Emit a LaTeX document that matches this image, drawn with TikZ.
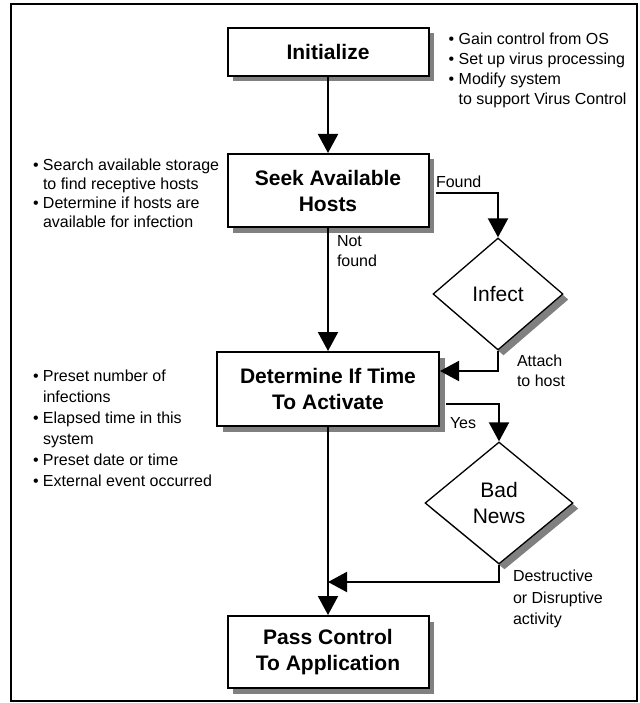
\documentclass[tikz,border=0pt]{standalone}
\usepackage{fontspec}
\setmainfont{Liberation Sans}
\usepackage{tikz}
\usetikzlibrary{arrows.meta, shapes.geometric, shadows}

\newcommand{\bitem}{\makebox[10pt][l]{\textbullet}}
\newcommand{\bcont}{\hspace*{10pt}}

\begin{document}
\begin{tikzpicture}[x=1pt, y=-1pt, line width=2pt,
    boxshadow/.style={drop shadow={shadow xshift=5.5pt, shadow yshift=-5.5pt, fill=black!50, opacity=1}},
    stepbox/.style={draw, fill=white, boxshadow, inner sep=0pt, minimum width=201pt, minimum height=73pt,
        align=center, font=\fontsize{21}{26}\selectfont\bfseries},
    decision/.style={diamond, draw, fill=white, boxshadow, line width=1.3pt, inner sep=0pt,
        align=center, font=\fontsize{21}{26}\selectfont},
    note/.style={inner sep=0pt, align=left, font=\fontsize{16}{20}\selectfont},
    flow/.style={-{Triangle[length=19pt, width=20pt]}}]
        \useasboundingbox (0,0) rectangle (639,703);
        % Frame
        \draw[line width=1.2pt] (11,4) rectangle (637,701);
        % Steps
        \node[stepbox, minimum height=48pt] (init) at (328,52) {Initialize};
        \node[stepbox] (seek) at (328,190.5) {Seek Available\\Hosts};
        \node[stepbox, minimum width=222pt, minimum height=74pt] (time) at (328,389) {Determine If Time\\To Activate};
        \node[stepbox, minimum height=72pt] (pass) at (328,652) {Pass Control\\To Application};
        % Decisions
        \node[decision, minimum width=130pt, minimum height=112pt] (infect) at (498,294) {Infect};
        \node[decision, minimum width=148pt, minimum height=122pt] (bad) at (499,503) {Bad\\News};
        % Main line
        \draw[flow] (init) -- (seek);
        \draw[flow] (seek) -- (time);
        \draw[flow] (time) -- (pass);
        % Branches
        \draw[flow] ([xshift=6pt, yshift=-2.5pt]seek.east) -| (infect.north);
        \draw[flow] (infect.south) |- ([yshift=18pt]time.east);
        \draw[flow] ([xshift=6pt, yshift=-15pt]time.east) -| (bad.north);
        \coordinate (merge) at (328,582);
        \draw[flow] (bad.south) |- (merge);
        % Branch labels
        \node[note, anchor=west] (found) at (435,182) {Found};
        \node[note, anchor=north west] (notfound) at (336,234) {Not\\found};
        \node[note, anchor=north west] (attach) at (516,354) {Attach\\to host};
        \node[note, anchor=west] (yes) at (449,423) {Yes};
        \node[note, anchor=north west, font=\fontsize{16}{21.5}\selectfont] (damage) at (512,569) {Destructive\\or Disruptive\\activity};
        % Side notes
        \node[note, anchor=north west] (initnotes) at (447.7,32.3)
            {\bitem Gain control from OS\\ \bitem Set up virus processing\\ \bitem Modify system\\ \bcont to support Virus Control};
        \node[note, anchor=north west, font=\fontsize{16}{19}\selectfont] (seeknotes) at (32,158)
            {\bitem Search available storage\\ \bcont to find receptive hosts\\ \bitem Determine if hosts are\\ \bcont available for infection};
        \node[note, anchor=north west, font=\fontsize{16}{21}\selectfont] (timenotes) at (32,369)
            {\bitem Preset number of\\ \bcont infections\\ \bitem Elapsed time in this\\ \bcont system\\ \bitem Preset date or time\\ \bitem External event occurred};
    \end{tikzpicture}
\end{document}
